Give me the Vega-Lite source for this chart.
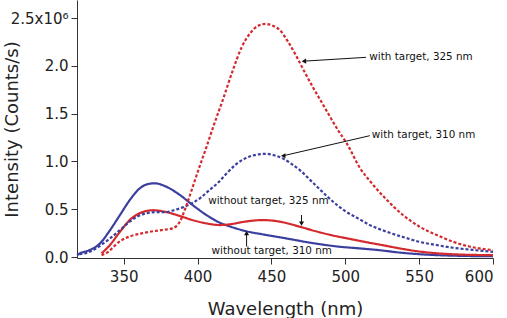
{
  "$schema": "https://vega.github.io/schema/vega-lite/v6.json",
  "width": 416,
  "height": 258,
  "autosize": "none",
  "padding": {"left": 77, "top": 0, "right": 14, "bottom": 60},
  "config": {"view": {"stroke": null}, "font": "DejaVu Sans"},
  "datasets": {
    "curves": [
      {"series": "310 without", "wl": 318.5, "val": 0.02},
      {"series": "310 without", "wl": 320.5, "val": 0.039},
      {"series": "310 without", "wl": 327, "val": 0.073},
      {"series": "310 without", "wl": 334, "val": 0.143},
      {"series": "310 without", "wl": 340.7, "val": 0.28},
      {"series": "310 without", "wl": 347.5, "val": 0.44},
      {"series": "310 without", "wl": 354.3, "val": 0.6},
      {"series": "310 without", "wl": 361, "val": 0.72},
      {"series": "310 without", "wl": 366, "val": 0.762},
      {"series": "310 without", "wl": 371, "val": 0.772},
      {"series": "310 without", "wl": 379, "val": 0.735},
      {"series": "310 without", "wl": 388, "val": 0.65},
      {"series": "310 without", "wl": 397, "val": 0.54},
      {"series": "310 without", "wl": 406, "val": 0.44},
      {"series": "310 without", "wl": 415, "val": 0.36},
      {"series": "310 without", "wl": 422, "val": 0.32},
      {"series": "310 without", "wl": 433, "val": 0.27},
      {"series": "310 without", "wl": 445, "val": 0.235},
      {"series": "310 without", "wl": 460, "val": 0.195},
      {"series": "310 without", "wl": 478, "val": 0.146},
      {"series": "310 without", "wl": 495, "val": 0.11},
      {"series": "310 without", "wl": 510, "val": 0.09},
      {"series": "310 without", "wl": 523, "val": 0.072},
      {"series": "310 without", "wl": 535, "val": 0.05},
      {"series": "310 without", "wl": 550, "val": 0.03},
      {"series": "310 without", "wl": 565, "val": 0.018},
      {"series": "310 without", "wl": 580, "val": 0.012},
      {"series": "310 without", "wl": 600, "val": 0.008},

      {"series": "325 without", "wl": 335, "val": 0.039},
      {"series": "325 without", "wl": 340.7, "val": 0.126},
      {"series": "325 without", "wl": 347.5, "val": 0.265},
      {"series": "325 without", "wl": 354.3, "val": 0.39},
      {"series": "325 without", "wl": 361, "val": 0.46},
      {"series": "325 without", "wl": 370, "val": 0.49},
      {"series": "325 without", "wl": 379, "val": 0.47},
      {"series": "325 without", "wl": 388, "val": 0.43},
      {"series": "325 without", "wl": 397, "val": 0.385},
      {"series": "325 without", "wl": 406, "val": 0.352},
      {"series": "325 without", "wl": 415, "val": 0.335},
      {"series": "325 without", "wl": 423, "val": 0.345},
      {"series": "325 without", "wl": 431, "val": 0.368},
      {"series": "325 without", "wl": 444.5, "val": 0.387},
      {"series": "325 without", "wl": 455.8, "val": 0.37},
      {"series": "325 without", "wl": 469.3, "val": 0.317},
      {"series": "325 without", "wl": 480, "val": 0.27},
      {"series": "325 without", "wl": 491.8, "val": 0.225},
      {"series": "325 without", "wl": 503, "val": 0.19},
      {"series": "325 without", "wl": 514.4, "val": 0.155},
      {"series": "325 without", "wl": 525, "val": 0.125},
      {"series": "325 without", "wl": 537, "val": 0.09},
      {"series": "325 without", "wl": 550, "val": 0.058},
      {"series": "325 without", "wl": 565, "val": 0.036},
      {"series": "325 without", "wl": 580, "val": 0.025},
      {"series": "325 without", "wl": 600, "val": 0.02},

      {"series": "310 with", "wl": 320, "val": 0.03},
      {"series": "310 with", "wl": 327, "val": 0.055},
      {"series": "310 with", "wl": 336, "val": 0.14},
      {"series": "310 with", "wl": 342, "val": 0.21},
      {"series": "310 with", "wl": 348, "val": 0.29},
      {"series": "310 with", "wl": 354, "val": 0.37},
      {"series": "310 with", "wl": 360, "val": 0.43},
      {"series": "310 with", "wl": 366, "val": 0.46},
      {"series": "310 with", "wl": 372, "val": 0.47},
      {"series": "310 with", "wl": 378, "val": 0.47},
      {"series": "310 with", "wl": 384, "val": 0.49},
      {"series": "310 with", "wl": 390, "val": 0.52},
      {"series": "310 with", "wl": 396, "val": 0.56},
      {"series": "310 with", "wl": 402, "val": 0.62},
      {"series": "310 with", "wl": 408, "val": 0.7},
      {"series": "310 with", "wl": 414, "val": 0.78},
      {"series": "310 with", "wl": 420, "val": 0.88},
      {"series": "310 with", "wl": 426, "val": 0.97},
      {"series": "310 with", "wl": 432, "val": 1.03},
      {"series": "310 with", "wl": 438, "val": 1.065},
      {"series": "310 with", "wl": 446, "val": 1.08},
      {"series": "310 with", "wl": 452, "val": 1.065},
      {"series": "310 with", "wl": 458, "val": 1.03},
      {"series": "310 with", "wl": 464, "val": 0.97},
      {"series": "310 with", "wl": 470, "val": 0.9},
      {"series": "310 with", "wl": 476, "val": 0.81},
      {"series": "310 with", "wl": 482, "val": 0.72},
      {"series": "310 with", "wl": 488, "val": 0.63},
      {"series": "310 with", "wl": 494, "val": 0.55},
      {"series": "310 with", "wl": 500, "val": 0.48},
      {"series": "310 with", "wl": 508, "val": 0.41},
      {"series": "310 with", "wl": 516, "val": 0.34},
      {"series": "310 with", "wl": 528, "val": 0.265},
      {"series": "310 with", "wl": 539, "val": 0.21},
      {"series": "310 with", "wl": 550, "val": 0.16},
      {"series": "310 with", "wl": 562, "val": 0.125},
      {"series": "310 with", "wl": 573, "val": 0.097},
      {"series": "310 with", "wl": 586, "val": 0.075},
      {"series": "310 with", "wl": 600, "val": 0.055},

      {"series": "325 with", "wl": 335, "val": 0.02},
      {"series": "325 with", "wl": 340, "val": 0.06},
      {"series": "325 with", "wl": 344, "val": 0.12},
      {"series": "325 with", "wl": 348, "val": 0.17},
      {"series": "325 with", "wl": 355, "val": 0.22},
      {"series": "325 with", "wl": 363, "val": 0.25},
      {"series": "325 with", "wl": 370, "val": 0.27},
      {"series": "325 with", "wl": 377, "val": 0.285},
      {"series": "325 with", "wl": 383, "val": 0.3},
      {"series": "325 with", "wl": 388, "val": 0.37},
      {"series": "325 with", "wl": 392, "val": 0.52},
      {"series": "325 with", "wl": 396, "val": 0.7},
      {"series": "325 with", "wl": 401, "val": 0.93},
      {"series": "325 with", "wl": 406, "val": 1.15},
      {"series": "325 with", "wl": 411, "val": 1.38},
      {"series": "325 with", "wl": 417, "val": 1.64},
      {"series": "325 with", "wl": 424, "val": 1.96},
      {"series": "325 with", "wl": 430, "val": 2.2},
      {"series": "325 with", "wl": 436, "val": 2.35},
      {"series": "325 with", "wl": 441, "val": 2.42},
      {"series": "325 with", "wl": 446, "val": 2.44},
      {"series": "325 with", "wl": 451, "val": 2.42},
      {"series": "325 with", "wl": 456, "val": 2.37},
      {"series": "325 with", "wl": 461, "val": 2.26},
      {"series": "325 with", "wl": 467, "val": 2.1},
      {"series": "325 with", "wl": 472, "val": 1.95},
      {"series": "325 with", "wl": 478, "val": 1.78},
      {"series": "325 with", "wl": 484, "val": 1.62},
      {"series": "325 with", "wl": 490, "val": 1.46},
      {"series": "325 with", "wl": 495, "val": 1.33},
      {"series": "325 with", "wl": 501, "val": 1.19},
      {"series": "325 with", "wl": 510, "val": 0.93},
      {"series": "325 with", "wl": 517, "val": 0.79},
      {"series": "325 with", "wl": 528, "val": 0.6},
      {"series": "325 with", "wl": 539, "val": 0.44},
      {"series": "325 with", "wl": 550, "val": 0.32},
      {"series": "325 with", "wl": 562, "val": 0.23},
      {"series": "325 with", "wl": 573, "val": 0.16},
      {"series": "325 with", "wl": 584, "val": 0.11},
      {"series": "325 with", "wl": 600, "val": 0.073}
    ],
    "arrows": [
      {"id": "a1", "dir": "left", "x1": 514, "y1": 2.09, "x2": 472, "y2": 2.05},
      {"id": "a2", "dir": "left", "x1": 516.6, "y1": 1.27, "x2": 458, "y2": 1.06},
      {"id": "a3", "dir": "down", "x1": 470.4, "y1": 0.44, "x2": 470.4, "y2": 0.35},
      {"id": "a4", "dir": "up", "x1": 433.2, "y1": 0.11, "x2": 433.2, "y2": 0.25}
    ],
    "labels": [
      {"text": "with target, 325 nm", "wl": 516.3, "val": 2.09},
      {"text": "with target, 310 nm", "wl": 518, "val": 1.28},
      {"text": "without target, 325 nm", "wl": 407.2, "val": 0.59},
      {"text": "without target, 310 nm", "wl": 409.5, "val": 0.063}
    ]
  },
  "layer": [
    {
      "data": {"name": "curves"},
      "mark": {"type": "line", "interpolate": "monotone"},
      "encoding": {
        "x": {
          "field": "wl", "type": "quantitative",
          "scale": {"domain": [318.4, 600], "nice": false, "zero": false},
          "axis": {
            "title": "Wavelength (nm)", "values": [350, 400, 450, 500, 550, 600],
            "grid": false, "tickSize": 6, "tickColor": "#333", "domainColor": "#333",
            "labelFontSize": 15, "labelColor": "#222", "labelPadding": 5,
            "titleFontSize": 18, "titleFontWeight": "normal", "titleColor": "#222", "titlePadding": 16
          }
        },
        "y": {
          "field": "val", "type": "quantitative",
          "scale": {"domain": [-0.01, 2.69], "nice": false, "zero": false},
          "axis": {
            "title": "Intensity (Counts/s)", "values": [0, 0.5, 1, 1.5, 2, 2.5],
            "labelExpr": "datum.value == 2.5 ? '2.5x10⁶' : format(datum.value, '.1f')",
            "grid": false, "tickSize": 6, "tickColor": "#333", "domainColor": "#333",
            "labelFontSize": 15, "labelColor": "#222", "labelPadding": 3,
            "titleFontSize": 18, "titleFontWeight": "normal", "titleColor": "#222", "titlePadding": -11
          }
        },
        "color": {
          "field": "series", "type": "nominal", "legend": null,
          "scale": {"domain": ["310 without", "325 without", "310 with", "325 with"],
                    "range": ["#3b3f9e", "#d42a2e", "#3b3f9e", "#d42a2e"]}
        },
        "strokeDash": {
          "field": "series", "type": "nominal", "legend": null,
          "scale": {"domain": ["310 without", "325 without", "310 with", "325 with"],
                    "range": [[1, 0], [1, 0], [3, 2], [3, 2]]}
        },
        "strokeWidth": {
          "field": "series", "type": "nominal", "legend": null,
          "scale": {"domain": ["310 without", "325 without", "310 with", "325 with"],
                    "range": [2.2, 2.2, 1.3, 1.3]}
        }
      }
    },
    {
      "data": {"name": "arrows"},
      "mark": {"type": "rule", "color": "#111", "strokeWidth": 1},
      "encoding": {
        "x": {"field": "x1", "type": "quantitative"},
        "y": {"field": "y1", "type": "quantitative"},
        "x2": {"field": "x2"},
        "y2": {"field": "y2"}
      }
    },
    {
      "data": {"name": "arrows"},
      "mark": {"type": "point", "filled": true, "color": "#111", "opacity": 1, "size": 26},
      "encoding": {
        "x": {"field": "x2", "type": "quantitative"},
        "y": {"field": "y2", "type": "quantitative"},
        "shape": {
          "field": "dir", "type": "nominal", "legend": null,
          "scale": {"domain": ["left", "down", "up"], "range": ["triangle-left", "triangle-down", "triangle-up"]}
        }
      }
    },
    {
      "data": {"name": "labels"},
      "mark": {"type": "text", "align": "left", "baseline": "middle", "fontSize": 10.4, "color": "#111"},
      "encoding": {
        "x": {"field": "wl", "type": "quantitative"},
        "y": {"field": "val", "type": "quantitative"},
        "text": {"field": "text"}
      }
    }
  ]
}
